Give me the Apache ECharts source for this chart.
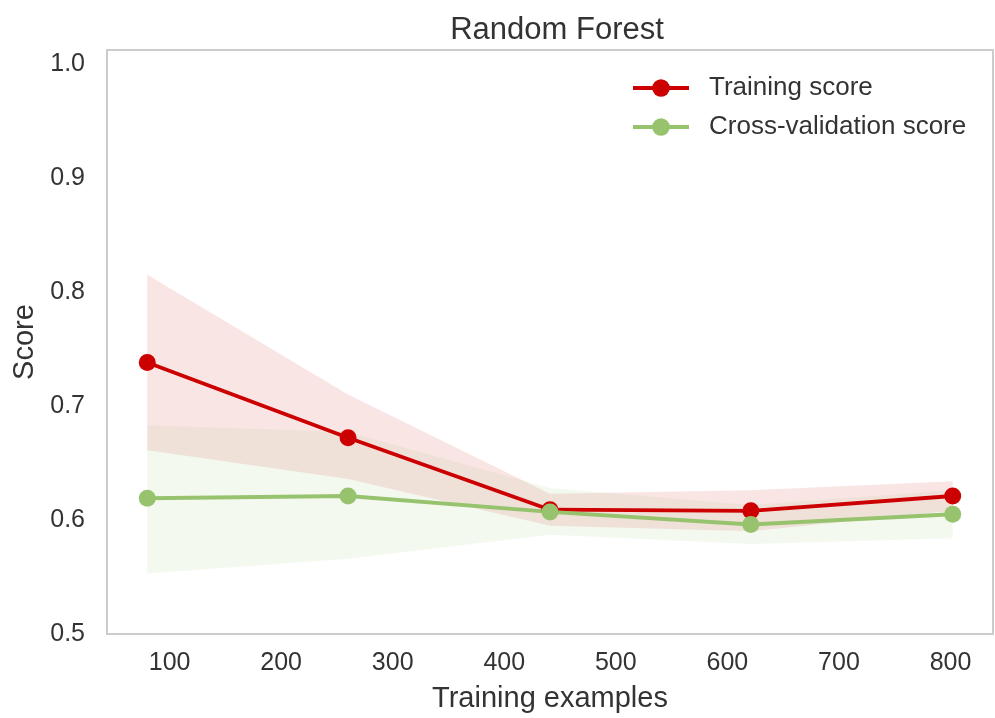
<!DOCTYPE html>
<html>
<head>
<meta charset="utf-8">
<script src="https://cdn.jsdelivr.net/npm/echarts@6/dist/echarts.min.js"></script>
<style>
  html, body { margin: 0; padding: 0; background: #ffffff; }
  #chart { width: 995px; height: 718px; }
</style>
</head>
<body>
<div id="chart"></div>
<script>
// Learning curve of a random forest: mean score with a ±1 std band per training size
const trainSizes = [80, 260, 441, 621, 802];

const trainMean  = [0.738, 0.672, 0.609, 0.608, 0.621];
const trainUpper = [0.815, 0.710, 0.623, 0.626, 0.634];
const trainLower = [0.661, 0.636, 0.595, 0.590, 0.608];

const cvMean  = [0.619, 0.621, 0.607, 0.596, 0.605];
const cvUpper = [0.683, 0.677, 0.628, 0.613, 0.626];
const cvLower = [0.553, 0.566, 0.587, 0.579, 0.584];

const xTickValues = [100, 200, 300, 400, 500, 600, 700, 800];
const yTickValues = [0.5, 0.6, 0.7, 0.8, 0.9, 1.0];

const RED = '#cc0000';
const GREEN = '#97c36f';
const TEXT = '#333333';
const FONT = '"Liberation Sans", Arial, sans-serif';

// Filled polygon between lower and upper bounds, drawn once through the axis scales
function bandRenderer(lower, upper, fill) {
  return function (params, api) {
    if (params.dataIndex !== 0) return null;
    const pts = [];
    for (let i = 0; i < trainSizes.length; i++) {
      pts.push(api.coord([trainSizes[i], upper[i]]));
    }
    for (let i = trainSizes.length - 1; i >= 0; i--) {
      pts.push(api.coord([trainSizes[i], lower[i]]));
    }
    return { type: 'polygon', shape: { points: pts }, style: { fill: fill } };
  };
}

function pairs(ys) { return trainSizes.map((x, i) => [x, ys[i]]); }
function bandData(lower, upper) { return trainSizes.map((x, i) => [x, lower[i], upper[i]]); }

const chart = echarts.init(document.getElementById('chart'), null, { renderer: 'canvas' });

chart.setOption({
  animation: false,
  backgroundColor: '#ffffff',
  textStyle: { fontFamily: FONT },
  title: {
    text: 'Random Forest',
    left: 552,
    top: 10,
    textAlign: 'center',
    textStyle: { fontFamily: FONT, fontSize: 31, fontWeight: 'normal', color: TEXT }
  },
  legend: {
    orient: 'vertical',
    left: 631,
    top: 74,
    padding: 0,
    itemWidth: 56,
    itemHeight: 22,
    itemGap: 11,
    lineStyle: { width: 4 },
    data: ['Training score', 'Cross-validation score'],
    textStyle: { fontFamily: FONT, fontSize: 26, color: TEXT, lineHeight: 28, padding: [0, 0, 0, 15] }
  },
  grid: {
    left: 107,
    right: 2,
    top: 50,
    bottom: 84,
    show: true,
    borderColor: '#cccccc',
    borderWidth: 2,
    backgroundColor: '#ffffff'
  },
  xAxis: {
    type: 'value',
    min: 43.9,
    max: 838.1,
    name: 'Training examples',
    nameLocation: 'middle',
    nameGap: 50,
    nameTextStyle: { fontFamily: FONT, fontSize: 29, color: TEXT },
    axisLine: { show: false },
    axisTick: { show: false, customValues: xTickValues },
    splitLine: { show: false },
    axisLabel: {
      customValues: xTickValues,
      fontFamily: FONT,
      fontSize: 25,
      color: TEXT,
      margin: 17,
      formatter: v => String(v)
    }
  },
  yAxis: {
    type: 'value',
    min: 0.5,
    max: 1.012,
    name: 'Score',
    nameLocation: 'middle',
    nameGap: 68,
    nameTextStyle: { fontFamily: FONT, fontSize: 29, color: TEXT },
    axisLine: { show: false },
    axisTick: { show: false, customValues: yTickValues },
    splitLine: { show: false },
    axisLabel: {
      customValues: yTickValues,
      fontFamily: FONT,
      fontSize: 25,
      color: TEXT,
      margin: 22,
      formatter: v => v.toFixed(1)
    }
  },
  series: [
    {
      name: 'train-band',
      type: 'custom',
      silent: true,
      z: 1,
      renderItem: bandRenderer(trainLower, trainUpper, 'rgba(204,0,0,0.1)'),
      encode: { x: 0, y: [1, 2] },
      data: bandData(trainLower, trainUpper)
    },
    {
      name: 'cv-band',
      type: 'custom',
      silent: true,
      z: 1,
      renderItem: bandRenderer(cvLower, cvUpper, 'rgba(151,195,111,0.1)'),
      encode: { x: 0, y: [1, 2] },
      data: bandData(cvLower, cvUpper)
    },
    {
      name: 'Training score',
      type: 'line',
      z: 3,
      data: pairs(trainMean),
      symbol: 'circle',
      symbolSize: 17,
      color: RED,
      lineStyle: { color: RED, width: 3.8 },
      itemStyle: { color: RED }
    },
    {
      name: 'Cross-validation score',
      type: 'line',
      z: 3,
      data: pairs(cvMean),
      symbol: 'circle',
      symbolSize: 17,
      color: GREEN,
      lineStyle: { color: GREEN, width: 3.8 },
      itemStyle: { color: GREEN }
    }
  ]
});
</script>
</body>
</html>
